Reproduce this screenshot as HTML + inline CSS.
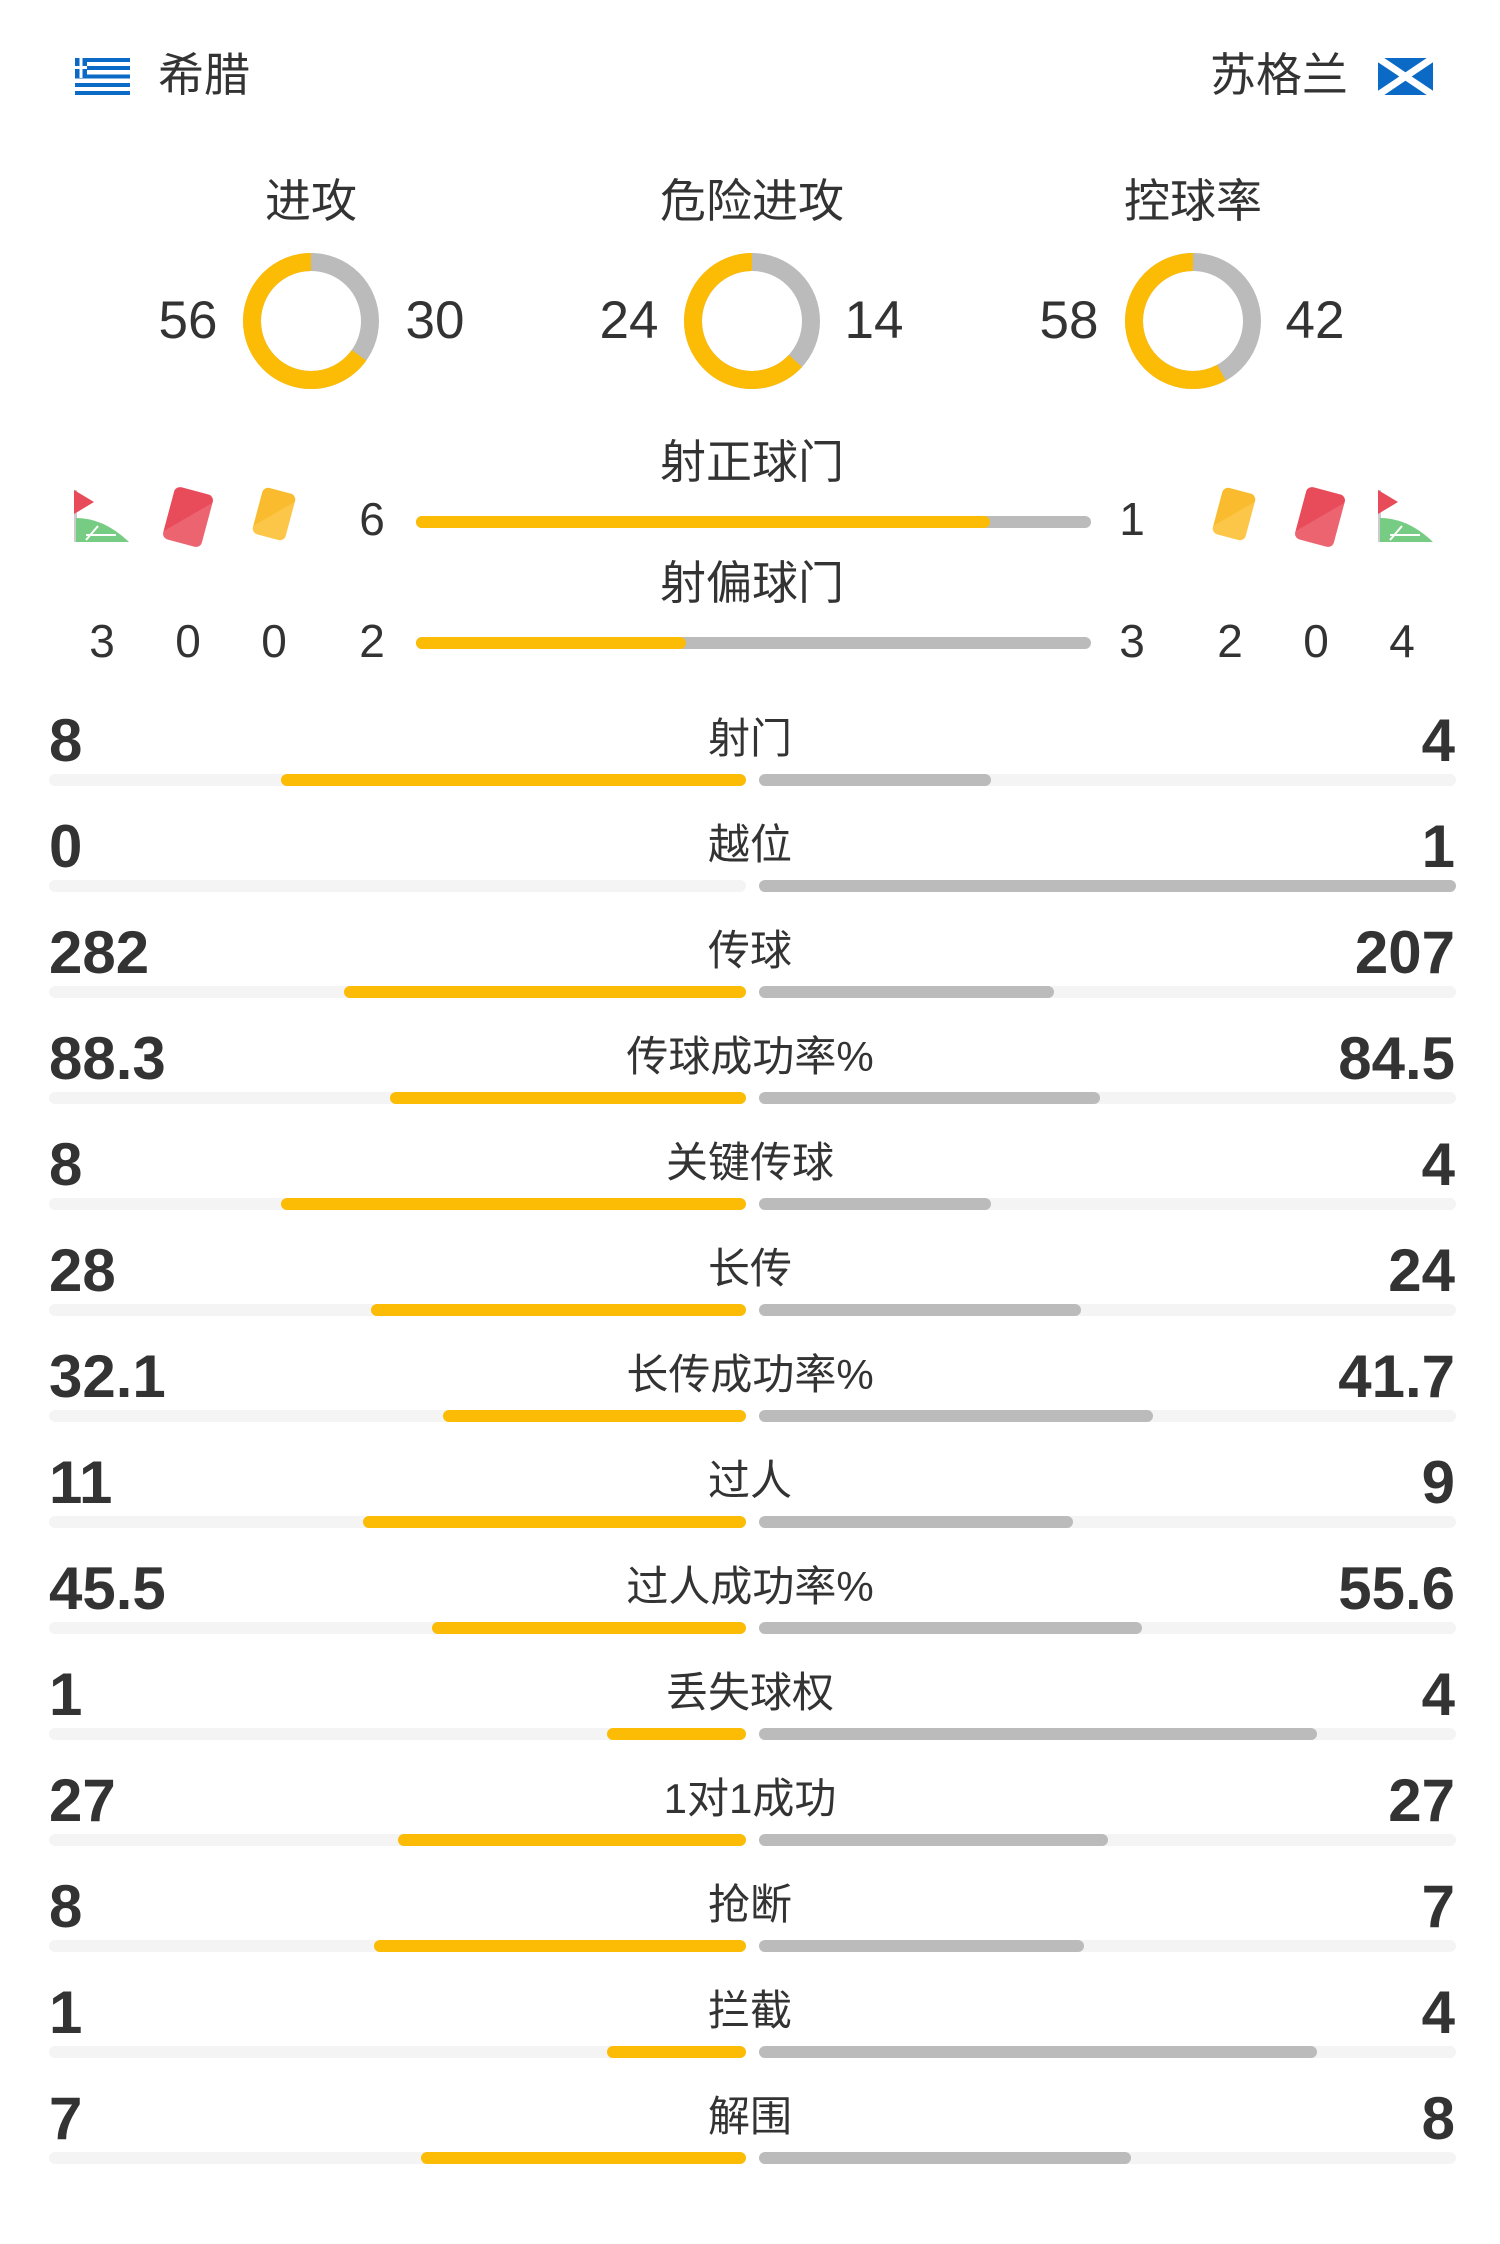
<!DOCTYPE html>
<html><head><meta charset="utf-8"><style>
*{margin:0;padding:0}
body{width:1500px;height:2244px;background:#fff;position:relative;overflow:hidden;font-family:"Liberation Sans","Noto Sans CJK SC",sans-serif;color:#333}
.a{position:absolute;white-space:nowrap}
.cj{font-family:"Liberation Sans","Noto Sans CJK SC",sans-serif;font-size:44px;line-height:44px;color:#333}
.tn{font-size:53px;line-height:53px;width:100px;text-align:center;margin-left:-50px}
.sn{font-size:46px;line-height:46px;width:60px;text-align:center;margin-left:-30px}
.bar{position:absolute;height:12px;border-radius:6px}
.y{background:#fcbb05}.g{background:#bbbbbb}.t{background:#f4f4f4}
.num{position:absolute;font-weight:bold;font-size:60px;line-height:60px}
.l{left:49px}.r{right:45px;text-align:right}
.lab{position:absolute;left:450px;width:600px;text-align:center;font-size:42px;line-height:42px}
</style></head><body>

<!-- header -->
<svg class="a" style="left:75px;top:58px" width="55" height="37" viewBox="0 0 55 37">
<rect width="55" height="37" fill="#fff"/>
<g fill="#0a6ac6"><rect y="0" width="55" height="4"/><rect y="8" width="55" height="4"/><rect y="16.5" width="55" height="4"/><rect y="25" width="55" height="4"/><rect y="33" width="55" height="4"/><rect x="0" y="0" width="12" height="20"/></g>
<rect x="0" y="8" width="12" height="3" fill="#fff"/><rect x="4.5" y="0" width="3" height="20" fill="#fff"/>
</svg>
<div class="a cj" style="left:158px;top:52px;font-size:46px;line-height:46px">希腊</div>
<div class="a cj" style="right:152px;top:52px;font-size:46px;line-height:46px">苏格兰</div>
<svg class="a" style="left:1378px;top:58px" width="55" height="37" viewBox="0 0 55 37">
<rect width="55" height="37" fill="#0a6ac6"/>
<path d="M0 0L55 37M55 0L0 37" stroke="#fff" stroke-width="7"/>
</svg>

<!-- titles -->
<div class="a cj" style="left:211px;width:200px;text-align:center;top:178px;font-size:46px;line-height:46px">进攻</div>
<div class="a cj" style="left:602px;width:300px;text-align:center;top:178px;font-size:46px;line-height:46px">危险进攻</div>
<div class="a cj" style="left:1093px;width:200px;text-align:center;top:178px;font-size:46px;line-height:46px">控球率</div>

<!-- donuts -->
<svg class="a" style="left:231px;top:241px" width="160" height="160" viewBox="-80 -80 160 160">
<circle r="59" fill="none" stroke="#bbb" stroke-width="18"/>
<circle r="59" fill="none" stroke="#fcbb05" stroke-width="18" stroke-dasharray="241.4 400" transform="rotate(-90) scale(1,-1)"/></svg>
<svg class="a" style="left:672px;top:241px" width="160" height="160" viewBox="-80 -80 160 160">
<circle r="59" fill="none" stroke="#bbb" stroke-width="18"/>
<circle r="59" fill="none" stroke="#fcbb05" stroke-width="18" stroke-dasharray="234.1 400" transform="rotate(-90) scale(1,-1)"/></svg>
<svg class="a" style="left:1113px;top:241px" width="160" height="160" viewBox="-80 -80 160 160">
<circle r="59" fill="none" stroke="#bbb" stroke-width="18"/>
<circle r="59" fill="none" stroke="#fcbb05" stroke-width="18" stroke-dasharray="215 400" transform="rotate(-90) scale(1,-1)"/></svg>

<div class="a tn" style="left:188px;top:294px">56</div>
<div class="a tn" style="left:435px;top:294px">30</div>
<div class="a tn" style="left:629px;top:294px">24</div>
<div class="a tn" style="left:874px;top:294px">14</div>
<div class="a tn" style="left:1069px;top:294px">58</div>
<div class="a tn" style="left:1315px;top:294px">42</div>

<!-- shots on/off target -->
<div class="a cj" style="left:602px;width:300px;text-align:center;top:439px;font-size:46px;line-height:46px">射正球门</div>
<div class="a cj" style="left:602px;width:300px;text-align:center;top:560px;font-size:46px;line-height:46px">射偏球门</div>
<div class="bar g" style="left:416px;width:675px;top:516px"></div>
<div class="bar y" style="left:416px;width:574px;top:516px"></div>
<div class="bar g" style="left:416px;width:675px;top:637px"></div>
<div class="bar y" style="left:416px;width:270px;top:637px"></div>

<svg class="a" style="left:74px;top:488px" width="56" height="56" viewBox="0 0 56 56">
<rect x="0" y="2" width="3" height="52" fill="#ccc"/>
<path d="M0 2L20 14L0 26Z" fill="#e84c5a"/>
<path d="M2 54L2 30Q30 30 55 54Z" fill="#76cc82"/>
<path d="M12 52L24 38M12 47L42 47" stroke="#fff" stroke-width="2" fill="none"/>
</svg>
<svg class="a" style="left:1378px;top:488px" width="56" height="56" viewBox="0 0 56 56">
<rect x="0" y="2" width="3" height="52" fill="#ccc"/>
<path d="M0 2L20 14L0 26Z" fill="#e84c5a"/>
<path d="M2 54L2 30Q30 30 55 54Z" fill="#76cc82"/>
<path d="M12 52L24 38M12 47L42 47" stroke="#fff" stroke-width="2" fill="none"/>
</svg>
<div class="a" style="left:168px;top:490px;width:40px;height:54px;border-radius:6px;background:linear-gradient(135deg,#e84c5a 50%,#ec6470 50%);transform:rotate(15deg)"></div>
<div class="a" style="left:1300px;top:490px;width:40px;height:54px;border-radius:6px;background:linear-gradient(135deg,#e84c5a 50%,#ec6470 50%);transform:rotate(15deg)"></div>
<div class="a" style="left:257px;top:490px;width:34px;height:48px;border-radius:6px;background:linear-gradient(135deg,#fbbb2e 50%,#fcc648 50%);transform:rotate(15deg)"></div>
<div class="a" style="left:1217px;top:490px;width:34px;height:48px;border-radius:6px;background:linear-gradient(135deg,#fbbb2e 50%,#fcc648 50%);transform:rotate(15deg)"></div>

<div class="a sn" style="left:372px;top:496px">6</div>
<div class="a sn" style="left:1132px;top:496px">1</div>
<div class="a sn" style="left:102px;top:618px">3</div>
<div class="a sn" style="left:188px;top:618px">0</div>
<div class="a sn" style="left:274px;top:618px">0</div>
<div class="a sn" style="left:372px;top:618px">2</div>
<div class="a sn" style="left:1132px;top:618px">3</div>
<div class="a sn" style="left:1230px;top:618px">2</div>
<div class="a sn" style="left:1316px;top:618px">0</div>
<div class="a sn" style="left:1402px;top:618px">4</div>

<!-- stat rows -->
<div style="position:absolute;left:0;top:0;width:1500px">
<!-- row template: top offset = 106*k -->
<div style="position:absolute;top:0px;width:1500px">
<div class="num l" style="top:711px">8</div><div class="lab" style="top:718px">射门</div><div class="num r" style="top:711px">4</div>
<div class="bar t" style="left:49px;width:697px;top:774px"></div><div class="bar t" style="left:759px;width:697px;top:774px"></div>
<div class="bar y" style="left:281px;width:465px;top:774px"></div><div class="bar g" style="left:759px;width:232px;top:774px"></div></div>

<div style="position:absolute;top:106px;width:1500px">
<div class="num l" style="top:711px">0</div><div class="lab" style="top:718px">越位</div><div class="num r" style="top:711px">1</div>
<div class="bar t" style="left:49px;width:697px;top:774px"></div><div class="bar t" style="left:759px;width:697px;top:774px"></div>
<div class="bar g" style="left:759px;width:697px;top:774px"></div></div>

<div style="position:absolute;top:212px;width:1500px">
<div class="num l" style="top:711px">282</div><div class="lab" style="top:718px">传球</div><div class="num r" style="top:711px">207</div>
<div class="bar t" style="left:49px;width:697px;top:774px"></div><div class="bar t" style="left:759px;width:697px;top:774px"></div>
<div class="bar y" style="left:344px;width:402px;top:774px"></div><div class="bar g" style="left:759px;width:295px;top:774px"></div></div>

<div style="position:absolute;top:318px;width:1500px">
<div class="num l" style="top:711px">88.3</div><div class="lab" style="top:718px">传球成功率%</div><div class="num r" style="top:711px">84.5</div>
<div class="bar t" style="left:49px;width:697px;top:774px"></div><div class="bar t" style="left:759px;width:697px;top:774px"></div>
<div class="bar y" style="left:390px;width:356px;top:774px"></div><div class="bar g" style="left:759px;width:341px;top:774px"></div></div>

<div style="position:absolute;top:424px;width:1500px">
<div class="num l" style="top:711px">8</div><div class="lab" style="top:718px">关键传球</div><div class="num r" style="top:711px">4</div>
<div class="bar t" style="left:49px;width:697px;top:774px"></div><div class="bar t" style="left:759px;width:697px;top:774px"></div>
<div class="bar y" style="left:281px;width:465px;top:774px"></div><div class="bar g" style="left:759px;width:232px;top:774px"></div></div>

<div style="position:absolute;top:530px;width:1500px">
<div class="num l" style="top:711px">28</div><div class="lab" style="top:718px">长传</div><div class="num r" style="top:711px">24</div>
<div class="bar t" style="left:49px;width:697px;top:774px"></div><div class="bar t" style="left:759px;width:697px;top:774px"></div>
<div class="bar y" style="left:371px;width:375px;top:774px"></div><div class="bar g" style="left:759px;width:322px;top:774px"></div></div>

<div style="position:absolute;top:636px;width:1500px">
<div class="num l" style="top:711px">32.1</div><div class="lab" style="top:718px">长传成功率%</div><div class="num r" style="top:711px">41.7</div>
<div class="bar t" style="left:49px;width:697px;top:774px"></div><div class="bar t" style="left:759px;width:697px;top:774px"></div>
<div class="bar y" style="left:443px;width:303px;top:774px"></div><div class="bar g" style="left:759px;width:394px;top:774px"></div></div>

<div style="position:absolute;top:742px;width:1500px">
<div class="num l" style="top:711px">11</div><div class="lab" style="top:718px">过人</div><div class="num r" style="top:711px">9</div>
<div class="bar t" style="left:49px;width:697px;top:774px"></div><div class="bar t" style="left:759px;width:697px;top:774px"></div>
<div class="bar y" style="left:363px;width:383px;top:774px"></div><div class="bar g" style="left:759px;width:314px;top:774px"></div></div>

<div style="position:absolute;top:848px;width:1500px">
<div class="num l" style="top:711px">45.5</div><div class="lab" style="top:718px">过人成功率%</div><div class="num r" style="top:711px">55.6</div>
<div class="bar t" style="left:49px;width:697px;top:774px"></div><div class="bar t" style="left:759px;width:697px;top:774px"></div>
<div class="bar y" style="left:432px;width:314px;top:774px"></div><div class="bar g" style="left:759px;width:383px;top:774px"></div></div>

<div style="position:absolute;top:954px;width:1500px">
<div class="num l" style="top:711px">1</div><div class="lab" style="top:718px">丢失球权</div><div class="num r" style="top:711px">4</div>
<div class="bar t" style="left:49px;width:697px;top:774px"></div><div class="bar t" style="left:759px;width:697px;top:774px"></div>
<div class="bar y" style="left:607px;width:139px;top:774px"></div><div class="bar g" style="left:759px;width:558px;top:774px"></div></div>

<div style="position:absolute;top:1060px;width:1500px">
<div class="num l" style="top:711px">27</div><div class="lab" style="top:718px">1对1成功</div><div class="num r" style="top:711px">27</div>
<div class="bar t" style="left:49px;width:697px;top:774px"></div><div class="bar t" style="left:759px;width:697px;top:774px"></div>
<div class="bar y" style="left:398px;width:348px;top:774px"></div><div class="bar g" style="left:759px;width:349px;top:774px"></div></div>

<div style="position:absolute;top:1166px;width:1500px">
<div class="num l" style="top:711px">8</div><div class="lab" style="top:718px">抢断</div><div class="num r" style="top:711px">7</div>
<div class="bar t" style="left:49px;width:697px;top:774px"></div><div class="bar t" style="left:759px;width:697px;top:774px"></div>
<div class="bar y" style="left:374px;width:372px;top:774px"></div><div class="bar g" style="left:759px;width:325px;top:774px"></div></div>

<div style="position:absolute;top:1272px;width:1500px">
<div class="num l" style="top:711px">1</div><div class="lab" style="top:718px">拦截</div><div class="num r" style="top:711px">4</div>
<div class="bar t" style="left:49px;width:697px;top:774px"></div><div class="bar t" style="left:759px;width:697px;top:774px"></div>
<div class="bar y" style="left:607px;width:139px;top:774px"></div><div class="bar g" style="left:759px;width:558px;top:774px"></div></div>

<div style="position:absolute;top:1378px;width:1500px">
<div class="num l" style="top:711px">7</div><div class="lab" style="top:718px">解围</div><div class="num r" style="top:711px">8</div>
<div class="bar t" style="left:49px;width:697px;top:774px"></div><div class="bar t" style="left:759px;width:697px;top:774px"></div>
<div class="bar y" style="left:421px;width:325px;top:774px"></div><div class="bar g" style="left:759px;width:372px;top:774px"></div></div>
</div>
</body></html>
